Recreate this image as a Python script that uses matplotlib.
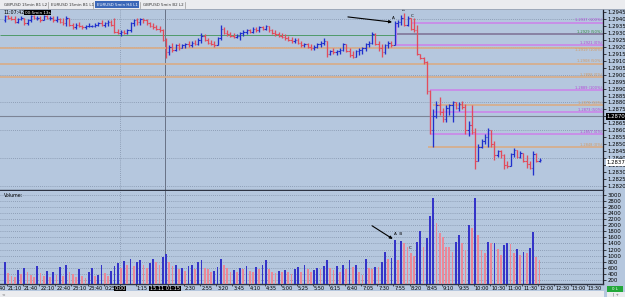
import matplotlib
matplotlib.use("Agg")
import matplotlib.pyplot as plt
import matplotlib.transforms as mtransforms
from matplotlib.patches import Rectangle
import numpy as np

plt.rcParams['font.family'] = ['DejaVu Sans']

# ---------------- data (EURUSD 5 min) ----------------
bar_high = [
    1.2943, 1.2943, 1.2942, 1.2942, 1.2941, 1.2942, 1.2941, 1.2940, 1.2943, 1.2943,
    1.2942, 1.2942, 1.2943, 1.2943, 1.2942, 1.2942, 1.2942, 1.2941, 1.2941, 1.2942,
    1.2941, 1.2937, 1.2937, 1.2938, 1.2936, 1.2936, 1.2937, 1.2936, 1.2937, 1.2938,
    1.2939, 1.2938, 1.2939, 1.2939, 1.2941, 1.2933, 1.2932, 1.2932, 1.2933, 1.2938,
    1.2940, 1.2941, 1.2941, 1.2941, 1.2940, 1.2938, 1.2937, 1.2936, 1.2935, 1.2933,
    1.2926, 1.2921, 1.2923, 1.2922, 1.2923, 1.2922, 1.2923, 1.2924, 1.2924, 1.2925,
    1.2926, 1.2930, 1.2929, 1.2926, 1.2925, 1.2924, 1.2927, 1.2936, 1.2934, 1.2932,
    1.2931, 1.2930, 1.2929, 1.2931, 1.2932, 1.2933, 1.2933, 1.2934, 1.2934, 1.2935,
    1.2935, 1.2936, 1.2935, 1.2933, 1.2932, 1.2931, 1.2930, 1.2929, 1.2928, 1.2927,
    1.2926, 1.2926, 1.2924, 1.2923, 1.2923, 1.2922, 1.2921, 1.2923, 1.2924, 1.2926,
    1.2924, 1.2918, 1.2919, 1.2918, 1.2919, 1.2923, 1.2922, 1.2919, 1.2917, 1.2918,
    1.2919, 1.2920, 1.2923, 1.2924, 1.2931, 1.2930, 1.2924, 1.2922, 1.2922, 1.2924,
    1.2924, 1.29385, 1.2939, 1.2943, 1.29443, 1.2942, 1.2941, 1.2941, 1.2936, 1.2915,
    1.2913, 1.2910, 1.2889, 1.2875, 1.2881, 1.2884, 1.2876, 1.2878, 1.2879, 1.2881,
    1.2880, 1.2880, 1.2881, 1.2879, 1.2867, 1.2878, 1.2862, 1.2850, 1.2854, 1.2857,
    1.2862, 1.2860, 1.2852, 1.2846, 1.2846, 1.2843, 1.2838, 1.2844, 1.2847, 1.2846,
    1.2845, 1.2844, 1.2842, 1.2838, 1.2845, 1.2844, 1.2840,
]
bar_low = [
    1.2938, 1.2940, 1.2939, 1.2937, 1.2937, 1.2939, 1.2936, 1.2936, 1.2938, 1.2940,
    1.2939, 1.2938, 1.2939, 1.2940, 1.2939, 1.2938, 1.2938, 1.2937, 1.2936, 1.2935,
    1.2935, 1.2933, 1.2933, 1.2934, 1.2933, 1.2933, 1.2934, 1.2934, 1.2934, 1.2935,
    1.2935, 1.2934, 1.2935, 1.2935, 1.2930, 1.2929, 1.2928, 1.2929, 1.2929, 1.2931,
    1.2935, 1.2936, 1.2936, 1.2937, 1.2936, 1.2934, 1.2933, 1.2932, 1.2931, 1.2924,
    1.2912, 1.2914, 1.2916, 1.2917, 1.2918, 1.2919, 1.2919, 1.2920, 1.2920, 1.2921,
    1.2921, 1.2923, 1.2924, 1.2922, 1.2921, 1.2920, 1.2921, 1.2925, 1.2929, 1.2928,
    1.2927, 1.2926, 1.2926, 1.2925, 1.2928, 1.2929, 1.2930, 1.2930, 1.2931, 1.2931,
    1.2932, 1.2932, 1.2931, 1.2929, 1.2928, 1.2927, 1.2926, 1.2925, 1.2924, 1.2923,
    1.2923, 1.2922, 1.2920, 1.2920, 1.2919, 1.2918, 1.2918, 1.2919, 1.2920, 1.2921,
    1.2913, 1.2914, 1.2915, 1.2914, 1.2915, 1.2917, 1.2916, 1.2913, 1.2912, 1.2913,
    1.2914, 1.2915, 1.2917, 1.2920, 1.2922, 1.2921, 1.2917, 1.2913, 1.2915, 1.2919,
    1.2920, 1.2921, 1.2934, 1.2936, 1.2935, 1.2935, 1.2932, 1.2931, 1.2914, 1.2911,
    1.2908, 1.2886, 1.2857, 1.2848, 1.2869, 1.2871, 1.2866, 1.2866, 1.2871, 1.2866,
    1.2875, 1.2874, 1.2875, 1.2857, 1.2856, 1.2857, 1.2832, 1.2838, 1.2847, 1.2850,
    1.2848, 1.2848, 1.2839, 1.2841, 1.2840, 1.2832, 1.2833, 1.2834, 1.2841, 1.2840,
    1.2840, 1.2837, 1.2833, 1.2832, 1.2828, 1.2837, 1.2837,
]
bar_close = [
    1.2942, 1.2941, 1.2940, 1.2938, 1.2940, 1.2941, 1.2937, 1.2939, 1.2942, 1.2941,
    1.2941, 1.2939, 1.2942, 1.2941, 1.2941, 1.2939, 1.2940, 1.2938, 1.2937, 1.2941,
    1.2936, 1.2934, 1.2936, 1.2935, 1.2934, 1.2935, 1.2935, 1.2935, 1.2936, 1.2937,
    1.2936, 1.2937, 1.2938, 1.2936, 1.2931, 1.2930, 1.2931, 1.2930, 1.2932, 1.2937,
    1.2939, 1.2938, 1.2940, 1.2939, 1.2937, 1.2935, 1.2934, 1.2933, 1.2932, 1.2925,
    1.2916, 1.2920, 1.2918, 1.2921, 1.2919, 1.2921, 1.2922, 1.2921, 1.2923, 1.2922,
    1.2925, 1.2928, 1.2925, 1.2923, 1.2922, 1.2921, 1.2926, 1.2933, 1.2930, 1.2929,
    1.2928, 1.2927, 1.2928, 1.2930, 1.2931, 1.2932, 1.2931, 1.2933, 1.2932, 1.2934,
    1.2933, 1.2935, 1.2932, 1.2930, 1.2929, 1.2928, 1.2927, 1.2926, 1.2925, 1.2924,
    1.2925, 1.2923, 1.2921, 1.2922, 1.2920, 1.2919, 1.2920, 1.2922, 1.2923, 1.2924,
    1.2915, 1.2917, 1.2916, 1.2917, 1.2918, 1.2922, 1.2917, 1.2914, 1.2913, 1.2917,
    1.2918, 1.2919, 1.2922, 1.2923, 1.2929, 1.2922, 1.2919, 1.2916, 1.2921, 1.2923,
    1.2921, 1.2937, 1.2938, 1.2941, 1.2936, 1.2941, 1.2933, 1.2932, 1.2915, 1.2912,
    1.2909, 1.2888, 1.2860, 1.2870, 1.2878, 1.2873, 1.2868, 1.2876, 1.2878, 1.2880,
    1.2876, 1.2879, 1.2877, 1.2860, 1.2864, 1.2859, 1.2838, 1.2848, 1.2852, 1.2855,
    1.2860, 1.2850, 1.2842, 1.2845, 1.2842, 1.2835, 1.2834, 1.2843, 1.2846, 1.2841,
    1.2844, 1.2838, 1.2836, 1.2833, 1.2843, 1.2838, 1.2839,
]
first_open = 1.2939

volume = [
    780, 420, 350, 300, 520, 400, 600, 450, 380, 300, 650, 420, 350, 500, 300, 450, 380, 620, 340, 700, 450,
    400, 300, 550, 350, 280, 450, 600, 320, 380, 700, 420, 350, 500, 650,
    750, 600, 820, 700, 900, 650, 780, 850, 700, 600, 750, 900, 800, 700, 950, 1050,
    800, 650, 700, 550, 600, 500, 650, 700, 550, 800,
    850, 600, 550, 480, 500, 620, 900, 700, 600, 480, 520, 450, 600, 550, 650, 500, 480, 620, 580, 700,
    850, 560, 480, 420, 500, 450, 520, 480, 400, 560, 620, 480, 700, 550, 450, 520, 600, 580, 650, 850,
    600, 520, 650, 480, 700, 580, 850, 620, 700,
    480, 370, 890, 590, 560, 640, 640, 800, 1110, 880,
    910, 1520, 860, 1490, 1400, 1300, 1100, 990, 1460, 1800,
    1300, 1570, 2300, 2900, 2060, 1740, 1620, 1300, 1300, 1130,
    1460, 1680, 1400, 1190, 2000, 1900, 2900, 1680, 1190, 1080,
    1460, 1400, 1430, 1210, 1020, 1350, 1400, 1380, 1100, 1220,
    1020, 1130, 1080, 1240, 1780, 970, 860,
]

time_labels = ["20:40", "21:10", "21:40", "22:10", "22:40", "23:10", "23:40", "0:25", "0:50",
               "1:15", "1:40", "2:05", "2:30", "2:55", "3:20", "3:45", "4:10", "4:35", "5:00",
               "5:25", "5:50", "6:15", "6:40", "7:05", "7:30", "7:55", "8:20", "8:45", "9:10",
               "9:35", "10:00", "10:30", "11:00", "11:30", "12:00", "12:30", "13:00", "13:30"]

# Fibonacci retracement levels drawn on the chart
fib_prices = [1.29373, 1.2929, 1.2921, 1.29195, 1.2908, 1.2898, 1.2889, 1.2878, 1.2873, 1.2857, 1.2848]
fib_texts = ["1.2937 (100%)", "1.2929 (50%)", "1.2921 (0%)", "1.2919 (100%)", "1.2908 (50%)",
             "1.2898 (0%)", "1.2889 (100%)", "1.2878 (50%)", "1.2873 (50%)", "1.2857 (0%)", "1.2848 (0%)"]
fib_kind = ["mag", "dark", "mag", "tan", "tan", "tan", "mag", "tan", "mag", "mag", "tan"]
hline_price = 1.29285          # green horizontal line
crosshair_price = 1.2870
bid_price = 1.2837
clock_text = "11:07:42"
timer_text = "00:5min 13s"
crosshair_time = "15.11 01:15"
separator_text = "0:00"
tabs = ["GBPUSD 15min B1 L2", "EURUSD 15min B1 L1", "EURUSD 5min H4 L1", "GBPUSD 5min B2 L2"]

# ---------------- styling / layout ----------------
W, H = 625, 297
BG = '#b5c7de'
UP = '#2030cc'
DN = '#e24c5c'
VOL_UP = '#3434c8'
VOL_DN = '#ea8898'
GRID = '#8292aa'
MAG = '#c98be8'
MAG_T = '#b246d6'
TAN = '#d6ae8e'
TAN_T = '#d49a62'
DARK = '#857c9e'
GREEN = '#4f9a6a'

fig = plt.figure(figsize=(W / 100, H / 100), dpi=100)
fig.patch.set_facecolor(BG)


def px_rect(x0, y0, x1, y1):
    return [x0 / W, 1 - y1 / H, (x1 - x0) / W, (y1 - y0) / H]


BAR_PX = 3.22
X0_PX = 5.0
AX_RIGHT = 603
xlim = (-X0_PX / BAR_PX, (AX_RIGHT - X0_PX) / BAR_PX)

close = np.array(bar_close)
high = np.array(bar_high)
low = np.array(bar_low)
opens = np.array([first_open] + bar_close[:-1])
n = len(close)
idx = np.arange(n)
up = close >= opens
cols = [UP if u else DN for u in up]

vol = np.array(volume)
vup = np.concatenate([[True], vol[1:] > vol[:-1]])
vcols = [VOL_UP if u else VOL_DN for u in vup]

axp = fig.add_axes(px_rect(0, 9, AX_RIGHT, 190))
axv = fig.add_axes(px_rect(0, 191, AX_RIGHT, 284))
for ax in (axp, axv):
    ax.set_facecolor(BG)
    ax.set_xlim(*xlim)
    for s in ('left', 'top'):
        ax.spines[s].set_visible(False)
    ax.spines['right'].set_color('#1c1c28')
    ax.spines['right'].set_linewidth(0.9)
    ax.spines['bottom'].set_color('#2e3444')
    ax.spines['bottom'].set_linewidth(1.0)
    ax.yaxis.tick_right()
    ax.tick_params(axis='y', direction='out', length=2, width=0.5, pad=1.2,
                   labelsize=3.9, colors='black')

# ---- price panel ----
axp.set_ylim(1.28171, 1.29472)
pticks = np.round(np.arange(1.2820, 1.29451, 0.0005), 4)
axp.set_yticks(pticks)
axp.set_yticklabels([f"{v:.4f}" for v in pticks])
axp.set_xticks([])
for lv in np.round(np.arange(1.2820, 1.2941, 0.0020), 4):
    axp.axhline(lv, color=GRID, lw=0.6, ls=(0, (1, 1.5)), zorder=0.5)

sep_bar = (120 - X0_PX) / BAR_PX
cross_bar = (165 - X0_PX) / BAR_PX
for ax in (axp, axv):
    ax.axvline(sep_bar, color=GRID, lw=0.6, ls=(0, (1, 1.5)), zorder=0.6)
    ax.axvline(cross_bar, color='#687286', lw=0.7, zorder=0.7)
axp.axhline(crosshair_price, color='#7c8496', lw=0.8, zorder=0.8)

# green horizontal line up to fib anchor
A_i, B_i, C_i = 121, 124, 127
axp.hlines(hline_price, xlim[0], A_i + 0.4, color=GREEN, lw=0.7, zorder=1)

fib_start = [126.4, 121.4, 121.4, xlim[0], xlim[0], xlim[0], 132.0, 133.0, 133.0, 132.0, 131.4]
fib_va = ['bottom', 'bottom', 'bottom', 'top', 'bottom', 'bottom', 'bottom', 'bottom', 'bottom',
          'bottom', 'bottom']
col_line = {"mag": MAG, "tan": TAN, "dark": DARK}
col_text = {"mag": MAG_T, "tan": TAN_T, "dark": '#2f8a3c'}
for p, t, k, s, va in zip(fib_prices, fib_texts, fib_kind, fib_start, fib_va):
    axp.hlines(p, s, xlim[1], color=col_line[k], lw=1.3, zorder=1.5)
    dy = 0.00002 if va == 'bottom' else -0.00003
    axp.text(xlim[1] - 0.3, p + dy, t, ha='right', va=va, fontsize=2.6,
             color=col_text[k], zorder=2)
axp.vlines(A_i + 0.4, fib_prices[2], fib_prices[0], color=MAG, lw=0.8, zorder=1.5)
axp.vlines(132.0, fib_prices[9], fib_prices[6], color=MAG, lw=0.8, zorder=1.5)

# OHLC bars
axp.vlines(idx, low, high, colors=cols, lw=0.95, zorder=3)
axp.hlines(opens, idx - 0.45, idx, colors=cols, lw=0.8, zorder=3)
axp.hlines(close, idx, idx + 0.45, colors=cols, lw=0.8, zorder=3)

# annotations A B C + arrow
axp.annotate('', xy=(A_i - 0.8, high[A_i] - 0.00007), xytext=(A_i - 14.5, high[A_i] + 0.0003),
             arrowprops=dict(arrowstyle='-|>', color='black', lw=0.8, mutation_scale=4,
                             shrinkA=0, shrinkB=0), zorder=4)
axp.text(A_i - 0.3, high[A_i] + 0.0001, "A", fontsize=3, ha='center', va='bottom', zorder=4)
axp.text(B_i - 0.3, high[B_i] + 0.0001, "B", fontsize=3, ha='center', va='bottom', zorder=4)
axp.text(C_i - 0.6, high[C_i] - 0.00005, "C", fontsize=3, ha='center', va='bottom', zorder=4)

# special axis labels
bl = mtransforms.blended_transform_factory(axp.transAxes, axp.transData)
axp.text(1.006, crosshair_price, f"{crosshair_price:.4f}", transform=bl, ha='left', va='center',
         fontsize=3.9, color='white', clip_on=False, zorder=6,
         bbox=dict(boxstyle='square,pad=0.15', fc='black', ec='none'))
axp.text(1.006, bid_price, f"{bid_price:.4f}", transform=bl, ha='left', va='center',
         fontsize=3.9, color='black', clip_on=False, zorder=6,
         bbox=dict(boxstyle='square,pad=0.15', fc='white', ec='none'))

# ---- volume panel ----
axv.set_ylim(72, 3121)
vticks = np.arange(200, 3001, 200)
axv.set_yticks(vticks)
axv.set_yticklabels([str(v) for v in vticks])
for v in vticks:
    axv.axhline(v, color=GRID, lw=0.6, ls=(0, (1, 1.5)), zorder=0.5)
axv.bar(idx, vol, width=0.55, color=vcols, zorder=3)

axv.annotate('', xy=(A_i - 0.6, vol[A_i] + 30), xytext=(A_i - 7, vol[A_i] + 460),
             arrowprops=dict(arrowstyle='-|>', color='black', lw=0.8, mutation_scale=4,
                             shrinkA=0, shrinkB=0), zorder=4)
axv.text(A_i + 1.2, vol[A_i] + 110, "A  B", fontsize=3, ha='center', va='bottom', zorder=4)
axv.text(C_i - 1.2, vol[125] - 120, "C", fontsize=3, ha='center', va='bottom', zorder=4)

# time axis
tick_pos = [5 * k - 4.35 for k in range(len(time_labels))]
axv.set_xticks([t for t in tick_pos if xlim[0] <= t <= xlim[1]])
axv.set_xticklabels([])
axv.tick_params(axis='x', direction='out', length=1.5, width=0.5, colors='#1c1c28')
tb = mtransforms.blended_transform_factory(axv.transData, axv.transAxes)

# black boxes on the time scale (they hide the labels beneath them)
box_specs = [(sep_bar, separator_text, 7.0), (cross_bar, crosshair_time, 15.5)]


def to_px(b):
    return X0_PX + BAR_PX * b


for t, lab in zip(tick_pos, time_labels):
    lx0 = to_px(t + 0.3)
    lx1 = lx0 + 3.0 * len(lab)
    covered = 0.0
    for bx, _, hw in box_specs:
        c0, c1 = to_px(bx) - hw, to_px(bx) + hw
        covered += max(0.0, min(lx1, c1) - max(lx0, c0))
    if covered > 0.45 * (lx1 - lx0):
        continue
    axv.text(t + 0.3, -0.025, lab, transform=tb, ha='left', va='top', fontsize=3.6,
             color='black', clip_on=False, zorder=5)
for bx, txt, _ in box_specs:
    axv.text(bx, -0.025, txt, transform=tb, ha='center', va='top', fontsize=3.6,
             color='white', clip_on=False, zorder=6,
             bbox=dict(boxstyle='square,pad=0.15', fc='black', ec='none'))

# ---- decoration overlay (tab bar, captions, status strip) ----
deco = fig.add_axes([0, 0, 1, 1])
deco.set_xlim(0, W)
deco.set_ylim(H, 0)
deco.axis('off')
deco.patch.set_visible(False)
deco.add_patch(Rectangle((0, 0), W, 9, fc='#ebecef', ec='none'))
deco.plot([0, W], [9, 9], color='#9aa4b4', lw=0.6)
tab_x = [(2, 47), (49, 92), (95, 139), (141, 184)]
for i, (lab, (x0, x1)) in enumerate(zip(tabs, tab_x)):
    if i == 2:
        deco.add_patch(Rectangle((x0, 1), x1 - x0, 7, fc='#3a67b8', ec='none'))
        deco.text(x0 + 2, 4.6, lab, fontsize=2.9, color='white', va='center', ha='left')
    else:
        deco.text(x0 + 2, 4.6, lab, fontsize=2.9, color='#333333', va='center', ha='left')
    deco.plot([x1 + 0.5, x1 + 0.5], [1.5, 7.5], color='#9a9a9a', lw=0.5)

deco.text(3, 12.5, clock_text, fontsize=3.4, color='black', va='center', ha='left')
deco.text(25, 12.5, timer_text, fontsize=3.0, color='white', va='center', ha='left',
          bbox=dict(boxstyle='square,pad=0.2', fc='black', ec='none'))
deco.text(4, 195.5, "Volume:", fontsize=3.4, color='black', va='center', ha='left')

deco.add_patch(Rectangle((0, 291), 604, 6, fc='#ebecef', ec='none'))
deco.text(2, 294.2, "<", fontsize=3, color='#555555', va='center', ha='left')
deco.add_patch(Rectangle((607, 286), 16, 5.5, fc='#22a83a', ec='none'))
deco.text(615, 288.8, "0 L", fontsize=2.8, color='white', va='center', ha='center')
deco.add_patch(Rectangle((607, 292), 18, 5, fc='#ebecef', ec='none'))
deco.text(616, 294.5, "| +", fontsize=2.8, color='#555555', va='center', ha='center')

fig.savefig("out.png", dpi=100, facecolor=fig.get_facecolor())
